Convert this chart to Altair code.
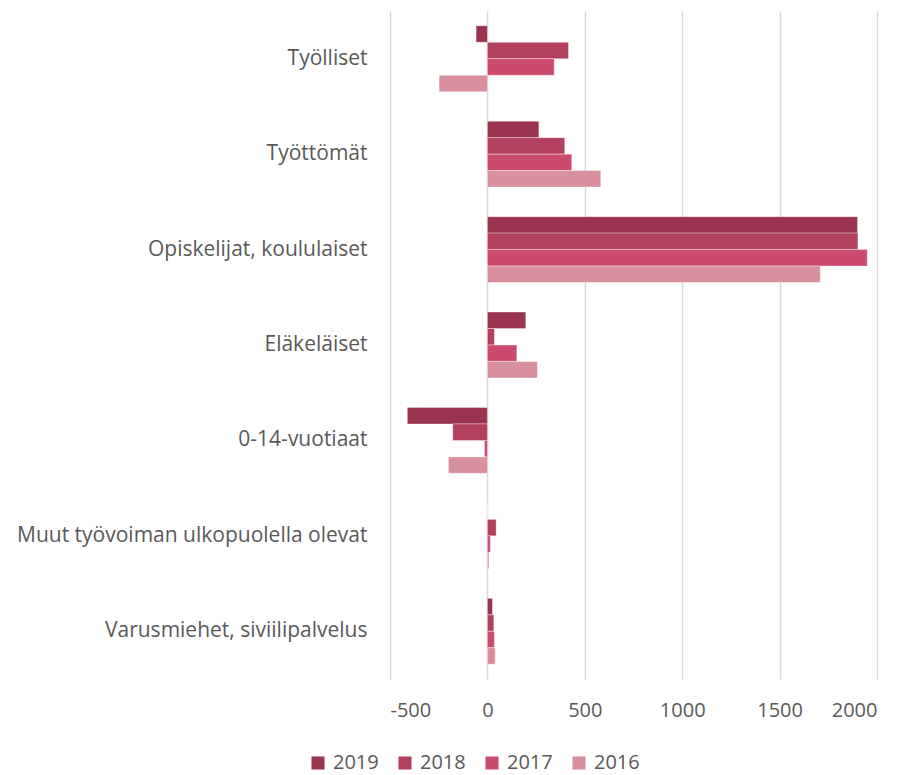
import altair as alt
import pandas as pd

categories = [
    "Työlliset",
    "Työttömät",
    "Opiskelijat, koululaiset",
    "Eläkeläiset",
    "0-14-vuotiaat",
    "Muut työvoiman ulkopuolella olevat",
    "Varusmiehet, siviilipalvelus",
]
years = ["2019", "2018", "2017", "2016"]
v2019 = [-58, 264, 1900, 197, -411, 0, 26]
v2018 = [416, 397, 1902, 36, -178, 45, 33]
v2017 = [343, 433, 1950, 151, -15, 15, 36]
v2016 = [-248, 582, 1709, 257, -200, 8, 40]
colors = ["#9A3350", "#B3405E", "#CC4A6D", "#D9909E"]

rows = []
for yr, vals in zip(years, [v2019, v2018, v2017, v2016]):
    for c, v in zip(categories, vals):
        rows.append({"Ryhmä": c, "Vuosi": yr, "Arvo": v})
df = pd.DataFrame(rows)

font = "Open Sans"
gray = "#595959"

chart = alt.Chart(df).mark_bar(stroke="white", strokeWidth=0.6, strokeOpacity=0.6).encode(
    y=alt.Y("Ryhmä:N", sort=categories, title=None,
            scale=alt.Scale(paddingInner=0.31, paddingOuter=0.155),
            axis=alt.Axis(ticks=False, domain=False, grid=False, labelPadding=23,
                          labelFontSize=21, labelColor=gray, labelFont=font,
                          labelLimit=500)),
    yOffset=alt.YOffset("Vuosi:N", sort=years, scale=alt.Scale(paddingInner=0, paddingOuter=0)),
    x=alt.X("Arvo:Q", title=None,
            scale=alt.Scale(domain=[-500, 2000], nice=False),
            axis=alt.Axis(values=[-500, 0, 500, 1000, 1500, 2000], ticks=False, domain=False,
                          grid=True, gridColor="#d9d9d9", gridWidth=1.5,
                          labelExpr="'' + datum.value",
                          labelPadding=21, labelFontSize=20, labelColor=gray, labelFont=font)),
    color=alt.Color("Vuosi:N", sort=years,
                    scale=alt.Scale(domain=years, range=colors),
                    legend=alt.Legend(title=None, orient="none", direction="horizontal",
                                      legendX=-82, legendY=742, padding=0,
                                      symbolType="square", symbolSize=170,
                                      symbolStrokeWidth=0, labelOffset=5,
                                      columnPadding=16, labelFontSize=20,
                                      labelColor=gray, labelFont=font)),
).properties(
    width=487,
    height=668,
    autosize=alt.AutoSizeParams(type="none"),
    padding={"left": 382, "top": 3, "right": 37, "bottom": 95},
).configure_view(stroke=None)

chart.save("out.html", embed_options={"renderer": "svg", "actions": False})
